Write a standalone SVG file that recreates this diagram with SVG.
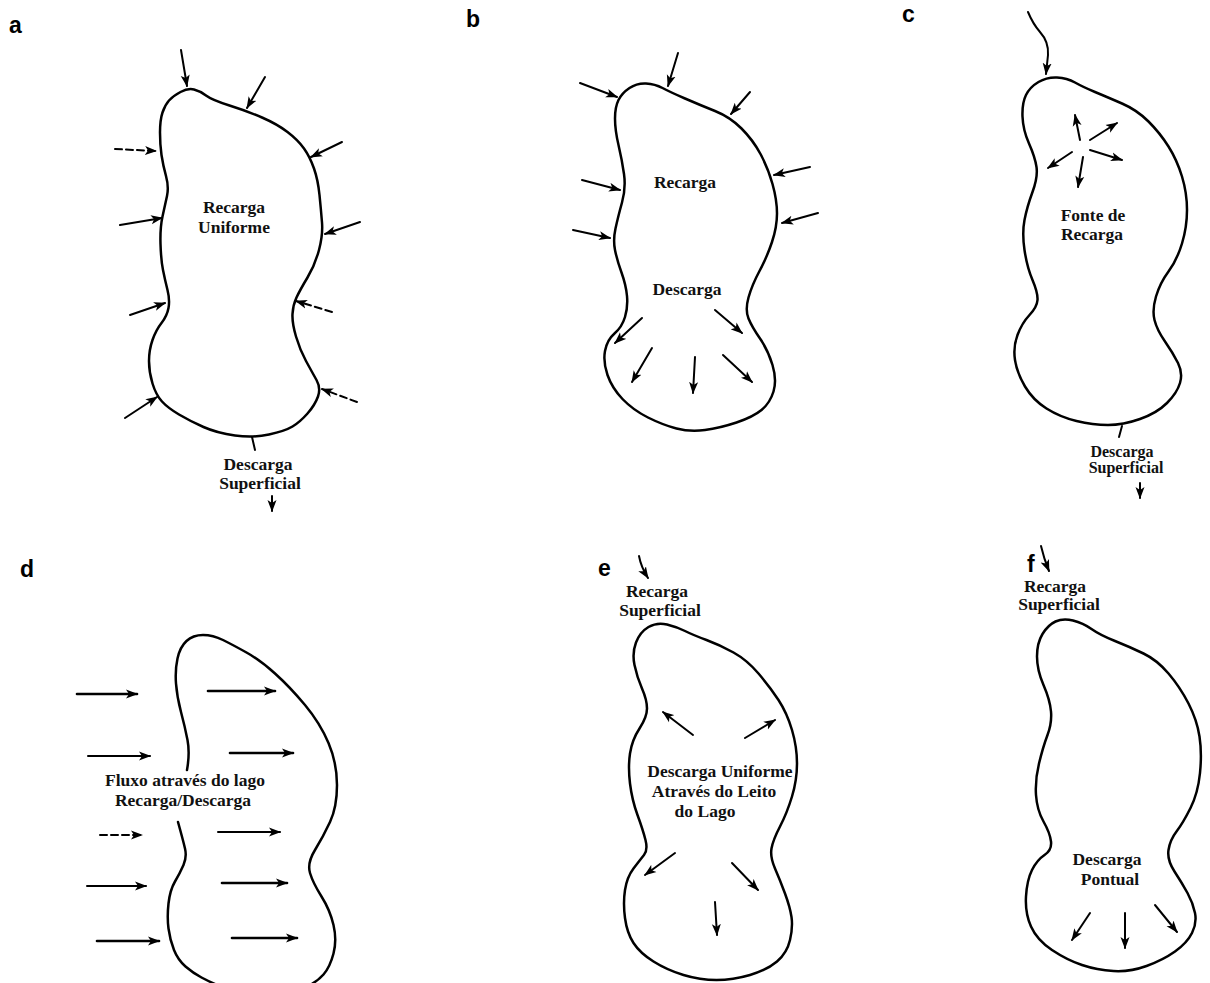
<svg xmlns="http://www.w3.org/2000/svg" width="1210" height="983" viewBox="0 0 1210 983">
<style>
.lake{fill:none;stroke:#000;stroke-width:2.5;stroke-linejoin:round;stroke-linecap:round}
.ar{fill:none;stroke:#000;stroke-width:2;stroke-linecap:round;marker-end:url(#ah)}
.thk{stroke-width:2.6}
.dash{stroke-dasharray:7 4}
.ln{fill:none;stroke:#000;stroke-width:2;stroke-linecap:round}
.lbl{font-family:"Liberation Serif","Times New Roman",serif;font-weight:bold;font-size:17.5px;text-anchor:middle;fill:#111}
.sm{font-size:16px}
.pl{font-family:"Liberation Sans",Arial,sans-serif;font-weight:bold;font-size:23px;fill:#000}
</style>
<defs>
<marker id="ah" viewBox="0 0 12 10" refX="11" refY="5" markerWidth="12" markerHeight="10" markerUnits="userSpaceOnUse" orient="auto">
<path d="M0,0.5 L12,5 L0,9.5 L3,5 Z" fill="#000"/>
</marker>
</defs>
<rect width="1210" height="983" fill="#fff"/>

<g id="labels">
<text class="pl" x="9" y="33">a</text>
<text class="pl" x="466" y="27">b</text>
<text class="pl" x="902" y="22">c</text>
<text class="pl" x="20" y="577">d</text>
<text class="pl" x="598" y="576">e</text>
<text class="pl" x="1027" y="572">f</text>
</g>

<g id="panel-a">
<path class="lake" d="M169,100.5 Q173,96 180.5,92 Q188,88 194,89.5 Q200,91 206,95.5 Q212,100 229.5,105.5 Q247,111 262,117.5 Q277,124 287.5,132 Q298,140 304,148.5 Q310,157 314,168.5 Q318,180 319.5,195 Q321,210 322,222.5 Q323,235 319,250 Q315,265 307.5,277.5 Q300,290 296.5,297.5 Q293,305 292.5,314 Q292,323 296,336.5 Q300,350 306,361 Q312,372 316.5,380 Q321,388 318,396.5 Q315,405 307.5,413.5 Q300,422 292.5,426.5 Q285,431 269,434.5 Q253,438 235,435.5 Q217,433 203.5,427 Q190,421 179,414.5 Q168,408 162,401.5 Q156,395 152.5,383.5 Q149,372 149,361 Q149,350 152.5,340 Q156,330 161.5,323 Q167,316 168.5,308 Q170,300 167.5,290 Q165,280 163,270 Q161,260 160.5,244 Q160,228 162.5,216.5 Q165,205 167,196 Q169,187 166,176 Q163,165 161.5,155 Q160,145 160,132.5 Q160,120 162.5,112.5 Q165,105 169,100.5 Z"/>
<text class="lbl" x="234" y="213">Recarga</text>
<text class="lbl" x="234" y="233">Uniforme</text>
<text class="lbl" x="258" y="470">Descarga</text>
<text class="lbl" x="260" y="489">Superficial</text>
</g>

<g id="panel-b">
<path class="lake" d="M618.5,100 Q622,93 629.5,88 Q637,83 646,83.5 Q655,84 662.5,88 Q670,92 685,98.5 Q700,105 715,111 Q730,117 741.5,128.5 Q753,140 760.5,154 Q768,168 772.5,184 Q777,200 777,213.5 Q777,227 772,242 Q767,257 759.5,271 Q752,285 748.5,297.5 Q745,310 748.5,318.5 Q752,327 760,338.5 Q768,350 772.5,365 Q777,380 773.5,391.5 Q770,403 761.5,410 Q753,417 736.5,422.5 Q720,428 705,430 Q690,432 676.5,428.5 Q663,425 648,417.5 Q633,410 622.5,399 Q612,388 607.5,375 Q603,362 605,351 Q607,340 614.5,333.5 Q622,327 625,317 Q628,307 627,296 Q626,285 621.5,272.5 Q617,260 615,250 Q613,240 615.5,228.5 Q618,217 622,202.5 Q626,188 624,174 Q622,160 618.5,145 Q615,130 615,118.5 Q615,107 618.5,100 Z"/>
<text class="lbl" x="685" y="188">Recarga</text>
<text class="lbl" x="687" y="295">Descarga</text>
</g>

<g id="panel-c">
<path class="lake" d="M1026,95 Q1030,87 1038.5,82 Q1047,77 1057,77.5 Q1067,78 1075,82.5 Q1083,87 1095,92 Q1107,97 1122,103.5 Q1137,110 1148.5,121.5 Q1160,133 1168.5,146.5 Q1177,160 1182,176.5 Q1187,193 1187,210 Q1187,227 1182,243.5 Q1177,260 1168.5,271.5 Q1160,283 1156,296.5 Q1152,310 1154.5,320 Q1157,330 1165,341.5 Q1173,353 1178,363 Q1183,373 1180,383 Q1177,393 1167,403 Q1157,413 1140,419 Q1123,425 1108,425 Q1093,425 1076.5,421 Q1060,417 1046.5,408.5 Q1033,400 1025,386.5 Q1017,373 1015,360 Q1013,347 1017.5,335 Q1022,323 1029.5,315 Q1037,307 1037.5,300 Q1038,293 1032.5,280 Q1027,267 1024.5,250 Q1022,233 1024.5,220 Q1027,207 1032.5,192 Q1038,177 1036.5,167 Q1035,157 1029,143.5 Q1023,130 1022.5,116.5 Q1022,103 1026,95 Z"/>
<text class="lbl" x="1093" y="221">Fonte de</text>
<text class="lbl" x="1092" y="240">Recarga</text>
<text class="lbl sm" x="1122" y="457">Descarga</text>
<text class="lbl sm" x="1126" y="473">Superficial</text>
</g>

<g id="panel-d">
<path class="lake" d="M187,770 Q190,753 187.5,740 Q185,727 181,712 Q177,697 176,683.5 Q175,670 177.5,658.5 Q180,647 186.5,641 Q193,635 203,635 Q213,635 223,640 Q233,645 246.5,652.5 Q260,660 275,673.5 Q290,687 305,705 Q320,723 328.5,743 Q337,763 337,785 Q337,807 330,822 Q323,837 315,850 Q307,863 310,873 Q313,883 321.5,896.5 Q330,910 333.5,925 Q337,940 333.5,953.5 Q330,967 323.5,974.5 Q317,982 303.5,988.5 Q290,995 265,995 Q240,995 225,988.5 Q210,982 201.5,977.5 Q193,973 185.5,966.5 Q178,960 174,950 Q170,940 168.5,928.5 Q167,917 168.5,903.5 Q170,890 175,881.5 Q180,873 183.5,865 Q187,857 185,848.5 Q183,840 178,822"/>
<text class="lbl" x="185" y="786">Fluxo através do lago</text>
<text class="lbl" x="183" y="806">Recarga/Descarga</text>
</g>

<g id="panel-e">
<path class="lake" d="M636,642.5 Q640,632 648.5,627 Q657,622 667,624.5 Q677,627 685,631 Q693,635 706.5,640 Q720,645 733.5,652.5 Q747,660 758.5,673.5 Q770,687 778.5,700 Q787,713 792,730 Q797,747 797,763.5 Q797,780 792,796.5 Q787,813 780,826.5 Q773,840 771.5,848.5 Q770,857 775,868.5 Q780,880 785,893.5 Q790,907 791.5,917 Q793,927 790,940 Q787,953 777,961.5 Q767,970 750,975 Q733,980 716.5,980 Q700,980 683.5,975 Q667,970 653.5,961.5 Q640,953 633.5,943 Q627,933 625,918 Q623,903 625,890 Q627,877 633.5,868.5 Q640,860 644,855 Q648,850 645.5,840 Q643,830 637.5,815 Q632,800 630,783.5 Q628,767 630,753.5 Q632,740 639.5,728.5 Q647,717 647,708.5 Q647,700 642,688.5 Q637,677 634.5,665 Q632,653 636,642.5 Z"/>
<text class="lbl" x="657" y="597">Recarga</text>
<text class="lbl" x="660" y="616">Superficial</text>
<text class="lbl" x="720" y="777">Descarga Uniforme</text>
<text class="lbl" x="714" y="797">Através do Leito</text>
<text class="lbl" x="705" y="817">do Lago</text>
</g>

<g id="panel-f">
<path class="lake" d="M1042.5,634 Q1048,625 1055.5,621.5 Q1063,618 1073,620.5 Q1083,623 1091.5,629 Q1100,635 1115,641 Q1130,647 1143.5,653.5 Q1157,660 1168.5,673.5 Q1180,687 1188.5,703.5 Q1197,720 1199.5,736.5 Q1202,753 1200,773 Q1198,793 1190.5,808 Q1183,823 1176.5,831.5 Q1170,840 1168.5,850 Q1167,860 1174.5,871.5 Q1182,883 1187.5,893 Q1193,903 1195,913 Q1197,923 1192,933 Q1187,943 1175,951.5 Q1163,960 1146.5,966 Q1130,972 1113.5,971 Q1097,970 1082,965 Q1067,960 1052,950 Q1037,940 1031,926.5 Q1025,913 1026,896.5 Q1027,880 1032,870 Q1037,860 1044.5,855 Q1052,850 1051,841.5 Q1050,833 1043.5,821.5 Q1037,810 1036,795 Q1035,780 1039,763.5 Q1043,747 1047.5,735 Q1052,723 1051,711.5 Q1050,700 1043.5,685 Q1037,670 1037,656.5 Q1037,643 1042.5,634 Z"/>
<text class="lbl" x="1055" y="592">Recarga</text>
<text class="lbl" x="1059" y="610">Superficial</text>
<text class="lbl" x="1107" y="865">Descarga</text>
<text class="lbl" x="1110" y="885">Pontual</text>
</g>

<g id="connectors">
<!-- a -->
<line class="ar" x1="181" y1="50" x2="187" y2="86"/>
<line class="ar" x1="265" y1="77" x2="247" y2="108"/>
<line class="ar dash" x1="115" y1="149" x2="156" y2="151"/>
<line class="ar" x1="342" y1="142" x2="311" y2="157"/>
<line class="ar" x1="120" y1="225" x2="162" y2="218"/>
<line class="ar" x1="360" y1="222" x2="325" y2="234"/>
<line class="ar" x1="130" y1="315" x2="165" y2="303"/>
<line class="ar dash" x1="332" y1="312" x2="296" y2="301"/>
<line class="ar" x1="125" y1="418" x2="157" y2="397"/>
<line class="ar dash" x1="357" y1="402" x2="322" y2="389"/>
<line class="ln" x1="252" y1="437" x2="255" y2="450"/>
<line class="ar" x1="272" y1="496" x2="272" y2="511"/>
<!-- b -->
<line class="ar" x1="580" y1="83" x2="617" y2="97"/>
<line class="ar" x1="678" y1="53" x2="668" y2="86"/>
<line class="ar" x1="750" y1="92" x2="731" y2="114"/>
<line class="ar" x1="810" y1="167" x2="774" y2="175"/>
<line class="ar" x1="582" y1="180" x2="620" y2="190"/>
<line class="ar" x1="818" y1="213" x2="782" y2="223"/>
<line class="ar" x1="573" y1="230" x2="610" y2="238"/>
<line class="ar" x1="642" y1="318" x2="615" y2="343"/>
<line class="ar" x1="715" y1="310" x2="742" y2="333"/>
<line class="ar" x1="652" y1="348" x2="632" y2="382"/>
<line class="ar" x1="695" y1="357" x2="693" y2="393"/>
<line class="ar" x1="723" y1="355" x2="752" y2="382"/>
<!-- c -->
<path class="ar" d="M1028,12 Q1033,24 1040,32 Q1049,42 1048,55 L1046,74"/>
<line class="ar" x1="1080" y1="140" x2="1075" y2="115"/>
<line class="ar" x1="1090" y1="140" x2="1117" y2="123"/>
<line class="ar" x1="1090" y1="150" x2="1122" y2="160"/>
<line class="ar" x1="1072" y1="152" x2="1048" y2="168"/>
<line class="ar" x1="1083" y1="157" x2="1078" y2="187"/>
<line class="ln" x1="1122" y1="426" x2="1119" y2="437"/>
<line class="ar" x1="1140" y1="483" x2="1140" y2="498"/>
<!-- d -->
<line class="ar thk" x1="77" y1="694" x2="137" y2="694"/>
<line class="ar thk" x1="208" y1="691" x2="275" y2="691"/>
<line class="ar" x1="88" y1="756" x2="150" y2="756"/>
<line class="ar thk" x1="230" y1="753" x2="293" y2="753"/>
<line class="ar dash" x1="100" y1="835" x2="142" y2="835"/>
<line class="ar" x1="218" y1="832" x2="280" y2="832"/>
<line class="ar" x1="87" y1="886" x2="146" y2="886"/>
<line class="ar thk" x1="222" y1="883" x2="287" y2="883"/>
<line class="ar thk" x1="97" y1="941" x2="159" y2="941"/>
<line class="ar thk" x1="232" y1="938" x2="297" y2="938"/>
<!-- e -->
<path class="ar" d="M639,556 Q641,567 648,578"/>
<line class="ar" x1="693" y1="735" x2="663" y2="712"/>
<line class="ar" x1="745" y1="738" x2="775" y2="720"/>
<line class="ar" x1="675" y1="853" x2="645" y2="875"/>
<line class="ar" x1="732" y1="863" x2="758" y2="890"/>
<line class="ar" x1="715" y1="902" x2="717" y2="935"/>
<!-- f -->
<path class="ar" d="M1041,546 Q1044,559 1049,571"/>
<line class="ar" x1="1090" y1="913" x2="1072" y2="940"/>
<line class="ar" x1="1125" y1="913" x2="1125" y2="948"/>
<line class="ar" x1="1155" y1="905" x2="1177" y2="932"/>
</g>
</svg>
